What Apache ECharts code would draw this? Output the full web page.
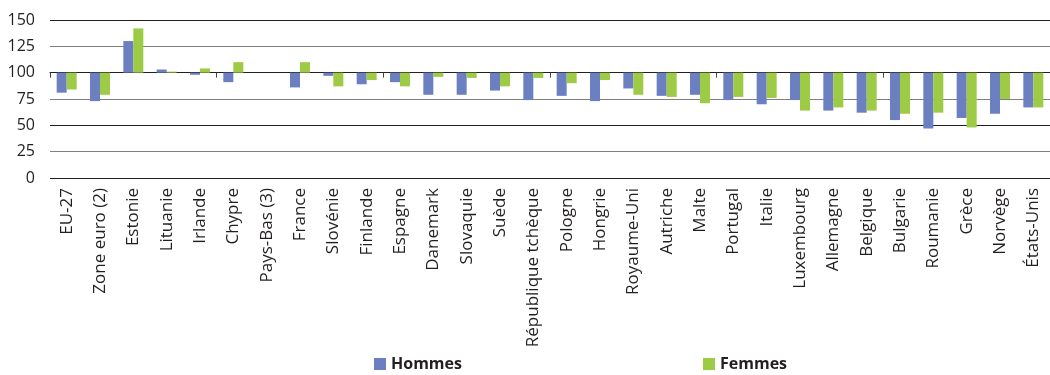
<!DOCTYPE html>
<html>
<head>
<meta charset="utf-8">
<script src="https://cdn.jsdelivr.net/npm/echarts@6/dist/echarts.min.js"></script>
<style>
html,body{margin:0;padding:0;background:#fff;}
#chart{width:1050px;height:375px;}
</style>
</head>
<body>
<div id="chart"></div>
<script>
const categories = ["EU-27","Zone euro (2)","Estonie","Lituanie","Irlande","Chypre","Pays-Bas (3)","France","Slovénie","Finlande","Espagne","Danemark","Slovaquie","Suède","République tchèque","Pologne","Hongrie","Royaume-Uni","Autriche","Malte","Portugal","Italie","Luxembourg","Allemagne","Belgique","Bulgarie","Roumanie","Grèce","Norvège","États-Unis"];
const hommes = [81,73,130,103,98,91,null,86,97,89,91,79,79,83,74,78,73,85,78,79,74,70,74,64,62,55,47,57,61,67];
const femmes = [84,79,142,101,104,110,null,110,87,93,87,96,95,87,95,90,93,79,77,71,77,76,64,67,64,61,62,48,75,67];
const yTicks = [0,25,50,75,100,125,150];
const baseline = 100;

const FONT = '"Open Sans", sans-serif';
const TXT = '#231f20';
const rel = arr => arr.map(v => v == null ? null : v - baseline);

const chart = echarts.init(document.getElementById('chart'), null, {renderer:'canvas'});
chart.setOption({
  animation:false,
  grid:{left:50, top:20, width:1002, height:158, containLabel:false},
  legend:{
    left:374, top:356, itemWidth:12, itemHeight:12, itemGap:241, padding:0,
    icon:'rect',
    textStyle:{fontFamily:FONT, fontSize:16, fontWeight:'bold', color:TXT},
    data:['Hommes','Femmes']
  },
  xAxis:[
    {type:'category', data:categories, position:'bottom',
     axisLine:{onZero:true, onZeroAxisIndex:1, lineStyle:{color:TXT, width:1}},
     axisTick:{show:true, length:5, lineStyle:{color:'#444'}},
     axisLabel:{show:false}},
    {type:'category', data:categories, position:'bottom',
     axisLine:{show:false, onZero:false}, axisTick:{show:false},
     axisLabel:{rotate:90, margin:10, fontFamily:FONT, fontSize:17, color:TXT, interval:0}}
  ],
  yAxis:[
    {type:'value', min:yTicks[0], max:yTicks[yTicks.length-1], interval:25,
     axisLine:{show:false}, axisTick:{show:false},
     axisLabel:{margin:15, fontFamily:FONT, fontSize:16, color:TXT,
       formatter: v => yTicks.includes(v) ? String(v) : ''},
     splitLine:{show:true, lineStyle:{color:['#231f20','#808080'], width:1}}},
    {type:'value', min:yTicks[0]-baseline, max:yTicks[yTicks.length-1]-baseline, interval:25,
     show:false, splitLine:{show:false}}
  ],
  series:[
    {name:'Hommes', type:'bar', xAxisIndex:0, yAxisIndex:1, data:rel(hommes),
     barWidth:10, barGap:'0%', itemStyle:{color:'#6b7fc1'}},
    {name:'Femmes', type:'bar', xAxisIndex:0, yAxisIndex:1, data:rel(femmes),
     barWidth:10, barGap:'0%', itemStyle:{color:'#9dcb45'}}
  ]
});
</script>
</body>
</html>
